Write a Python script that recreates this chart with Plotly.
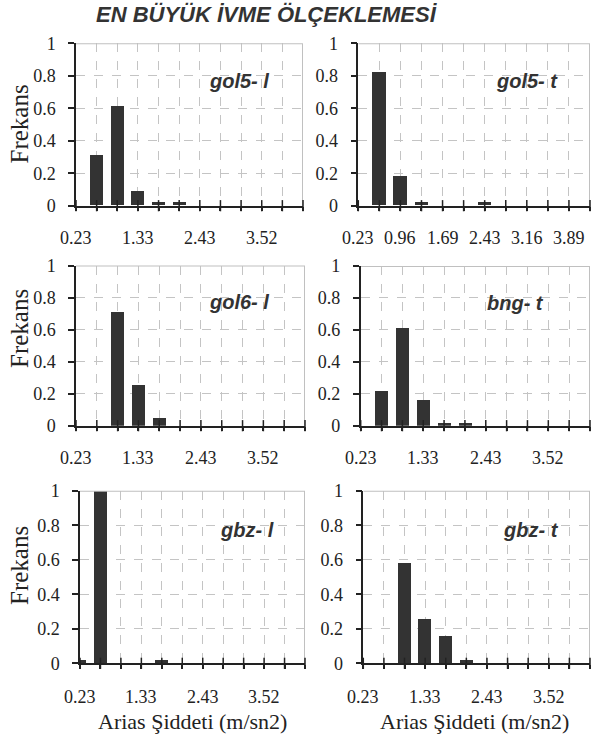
import plotly.graph_objects as go

# ---- data ----
bin_centers = [0.23, 0.595, 0.96, 1.325, 1.69, 2.055, 2.42, 2.785, 3.15, 3.515, 3.88, 4.245]
tick_labels_a = ["0.23", "", "", "1.33", "", "", "2.43", "", "", "3.52", "", ""]
tick_labels_b = ["0.23", "", "0.96", "", "1.69", "", "2.43", "", "3.16", "", "3.89", ""]

panel_names = ["gol5- l", "gol5- t", "gol6- l", "bng- t", "gbz- l", "gbz- t"]
freq_gol5_l = [0, 0.31, 0.61, 0.09, 0.02, 0.02, 0, 0, 0, 0, 0, 0]
freq_gol5_t = [0, 0.82, 0.18, 0.02, 0, 0, 0.02, 0, 0, 0, 0, 0]
freq_gol6_l = [0, 0, 0.71, 0.26, 0.05, 0, 0, 0, 0, 0, 0, 0]
freq_bng_t = [0, 0.22, 0.61, 0.16, 0.02, 0.02, 0, 0, 0, 0, 0, 0]
freq_gbz_l = [0.02, 1.0, 0, 0, 0.02, 0, 0, 0, 0, 0, 0, 0]
freq_gbz_t = [0, 0, 0.58, 0.26, 0.16, 0.02, 0, 0, 0, 0, 0, 0]
panel_freqs = [freq_gol5_l, freq_gol5_t, freq_gol6_l, freq_bng_t, freq_gbz_l, freq_gbz_t]
panel_ticks = [tick_labels_a, tick_labels_b, tick_labels_a, tick_labels_a, tick_labels_a, tick_labels_a]

y_ticks = [0, 0.2, 0.4, 0.6, 0.8, 1]
y_tick_text = ["0", "0.2", "0.4", "0.6", "0.8", "1"]

title_text = "EN BÜYÜK İVME ÖLÇEKLEMESİ"
y_title = "Frekans"
x_title = "Arias Şiddeti (m/sn2)"

# ---- layout geometry (pixels) ----
W, H = 591, 747
px_boxes = [  # x0, x1, ytop, ybottom
    (76, 303, 43.3, 205.7),
    (358.3, 590, 43.3, 205.7),
    (76, 305, 265.5, 425.7),
    (360.7, 590, 266, 425.7),
    (80, 305, 490.7, 663.3),
    (363.3, 590, 490.7, 663.3),
]
xlabel_offset_px = [32.3, 32.3, 32.3, 32.3, 33.7, 33.7]
label_xfrac = [0.86, 0.87, 0.852, 0.81, 0.872, 0.873]

BAR = "#333333"
AX = "#222222"
GRID = "#c4c4c4"
BORDER = "#c0c0c0"
SERIF = "Liberation Serif"
SANS = "Liberation Sans"
PAD = "\u00a0\u00a0"

fig = go.Figure()
layout = dict(width=W, height=H, margin=dict(l=0, r=0, t=0, b=0, autoexpand=False),
              paper_bgcolor="white", plot_bgcolor="white", showlegend=False,
              bargap=0)
annotations = []
xr = [bin_centers[0], bin_centers[-1]]
yr = [0, 1]

for i in range(6):
    n = i + 1
    sfx = "" if n == 1 else str(n)
    xa, ya = "x" + sfx, "y" + sfx
    x0, x1, yt, yb = px_boxes[i]
    dx = [x0 / W, x1 / W]
    dy = [1 - yb / H, 1 - yt / H]

    # gray top/right frame of the plot area (follows the axis ranges)
    fig.add_trace(go.Scatter(x=[xr[0], xr[1], xr[1]], y=[yr[1], yr[1], yr[0]], mode="lines",
                             line=dict(color=BORDER, width=2), cliponaxis=False,
                             xaxis=xa, yaxis=ya, hoverinfo="skip"))
    fig.add_trace(go.Bar(x=bin_centers, y=panel_freqs[i], width=0.23,
                         marker=dict(color=BAR, line=dict(width=0)),
                         xaxis=xa, yaxis=ya, hoverinfo="skip"))
    # crossing x-axis tick marks
    fig.add_trace(go.Scatter(x=bin_centers, y=[0] * len(bin_centers), mode="markers",
                             marker=dict(symbol="line-ns", size=8, line=dict(width=1.5, color=AX)),
                             cliponaxis=False, xaxis=xa, yaxis=ya, hoverinfo="skip"))

    layout["xaxis" + sfx] = dict(
        domain=dx, anchor=ya, range=xr, tickmode="array", tickvals=bin_centers,
        ticktext=panel_ticks[i], showticklabels=False,
        ticks="outside", ticklen=4, tickwidth=1.5, tickcolor=AX,
        showline=True, linecolor=AX, linewidth=1.5, showgrid=True, gridcolor=GRID,
        griddash="dash", gridwidth=1, zeroline=False, automargin=False,
        tickfont=dict(family=SERIF, size=18, color=AX))
    layout["yaxis" + sfx] = dict(
        domain=dy, anchor=xa, range=yr, tickmode="array", tickvals=y_ticks,
        ticktext=[t + PAD for t in y_tick_text], ticks="outside", ticklen=6, tickwidth=1.5,
        tickcolor=AX, showline=True, linecolor=AX, linewidth=1.5, showgrid=True, gridcolor=GRID,
        griddash="dash", gridwidth=1, zeroline=False, automargin=False,
        tickfont=dict(family=SERIF, size=18, color=AX))

    # x tick labels, placed at the axis positions of the bins, further below the axis
    off = -xlabel_offset_px[i] / (yb - yt)
    for xv, lab in zip(bin_centers, panel_ticks[i]):
        if lab:
            annotations.append(dict(text=lab, xref=xa, yref=ya + " domain", x=xv, y=off,
                                    xanchor="center", yanchor="middle", showarrow=False,
                                    font=dict(family=SERIF, size=18, color=AX)))

    annotations.append(dict(text="<b><i>" + panel_names[i] + "</i></b>", xref=xa + " domain",
                            yref=ya, x=label_xfrac[i], y=0.77, xanchor="right", yanchor="middle",
                            showarrow=False, font=dict(family=SANS, size=20, color="#333333")))

annotations.append(dict(text="<b><i>" + title_text + "</i></b>", xref="paper", yref="paper",
                        x=267 / W, y=1 - 14.5 / H, xanchor="center", yanchor="middle",
                        showarrow=False, font=dict(family=SANS, size=22, color="#333333")))
for yc in [123.5, 328, 565]:
    annotations.append(dict(text=y_title, xref="paper", yref="paper", x=19 / W, y=1 - yc / H,
                            xanchor="center", yanchor="middle", textangle=-90, showarrow=False,
                            font=dict(family=SERIF, size=25, color=AX)))
for xc in [192.5, 474]:
    annotations.append(dict(text=x_title, xref="paper", yref="paper", x=xc / W, y=1 - 721.7 / H,
                            xanchor="center", yanchor="middle", showarrow=False,
                            font=dict(family=SERIF, size=22, color=AX)))

layout["annotations"] = annotations
fig.update_layout(**layout)
fig.write_html("out.html")
